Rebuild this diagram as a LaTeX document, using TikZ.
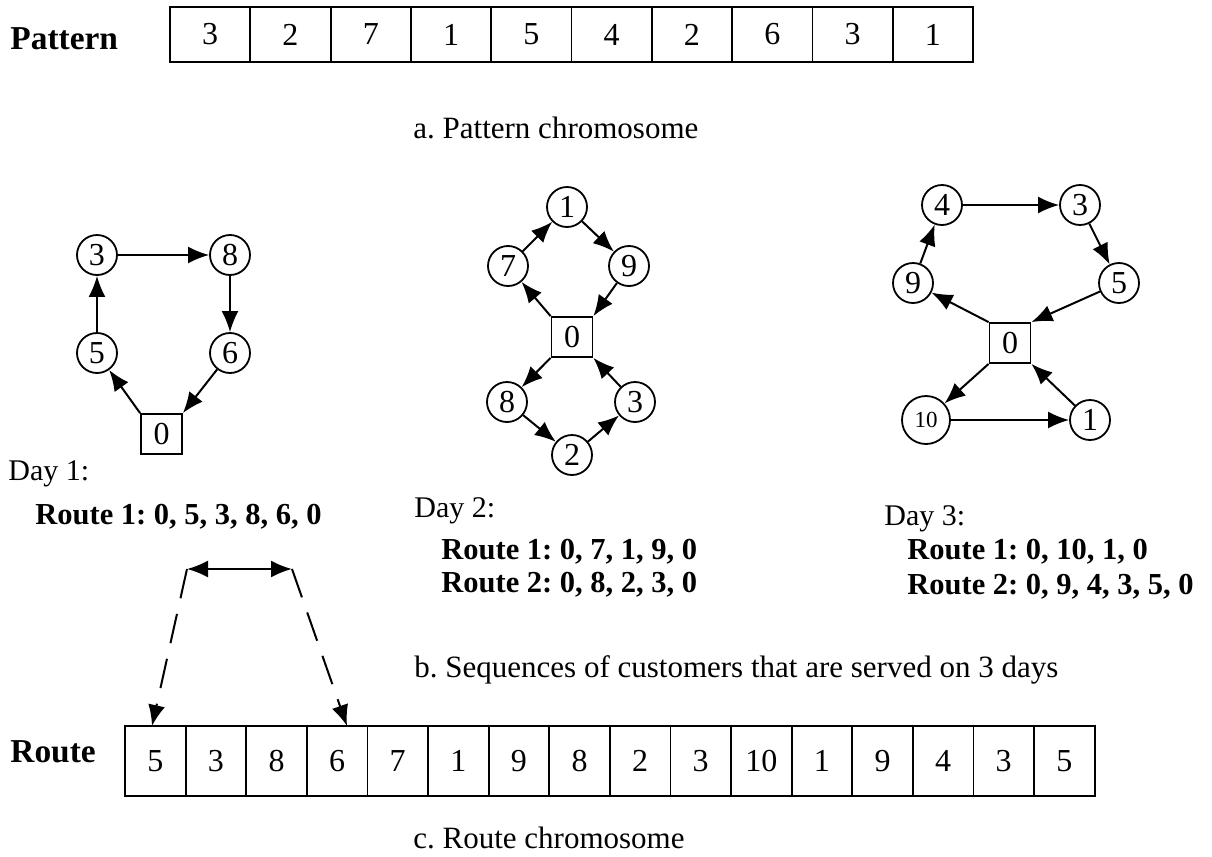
\documentclass[tikz,border=0pt]{standalone}
\usepackage{fontspec}
\setmainfont{Liberation Serif}
\usetikzlibrary{arrows.meta}
\frenchspacing
\begin{document}
\begin{tikzpicture}[x=0.5pt,y=-0.5pt,
  every node/.style={inner sep=0pt},
  cnode/.style={circle,draw,line width=0.9pt,minimum size=20pt,font=\fontsize{16}{18}\selectfont},
  depot/.style={rectangle,draw,line width=0.9pt,minimum width=20.5pt,minimum height=20pt,font=\fontsize{16}{18}\selectfont},
  pcell/.style={rectangle,draw,line width=0.9pt,minimum width=40.15pt,minimum height=27.5pt,font=\fontsize{16}{18}\selectfont},
  rcell/.style={rectangle,draw,line width=0.9pt,minimum width=30.3pt,minimum height=35pt,font=\fontsize{16}{18}\selectfont},
  tip/.style={Latex[length=10.5pt,width=8.5pt]},
  arr/.style={line width=1pt,-{Latex[length=10.5pt,width=8.5pt]}},
  lbl/.style={anchor=base west,font=\fontsize{15}{18}\selectfont},
  rlbl/.style={anchor=base west,font=\fontsize{15.25}{18}\selectfont\bfseries},
  captxt/.style={anchor=base west,font=\fontsize{15.5}{18}\selectfont},
  hdr/.style={anchor=base west,font=\fontsize{16.7}{20}\selectfont\bfseries}
]
\useasboundingbox (0,0) rectangle (1212,857);

% Pattern chromosome
\node[hdr] (patlbl) at (10,49) {Pattern};
\foreach \v [count=\i] in {3,2,7,1,5,4,2,6,3,1}
  \node[pcell] (p\i) at ({170+80.3*(\i-0.5)},34.5) {\v};
\node[captxt] (capa) at (413,138) {a. Pattern chromosome};

% Day 1
\node[cnode] (a3) at (97,255) {3};
\node[cnode] (a8) at (230,255) {8};
\node[cnode] (a5) at (97,353) {5};
\node[cnode] (a6) at (230,353) {6};
\node[depot] (d1) at (161.5,434) {0};
\draw[arr] (a5) -- (a3);
\draw[arr] (a3) -- (a8);
\draw[arr] (a8) -- (a6);
\draw[arr] (a6) -- (d1.north east);
\draw[arr] (d1.north west) -- (a5);

% Day 2
\node[cnode] (b1) at (567,207) {1};
\node[cnode] (b7) at (508,266) {7};
\node[cnode] (b9) at (629,266) {9};
\node[depot] (d2) at (572,337) {0};
\node[cnode] (b8) at (507,402) {8};
\node[cnode] (b3) at (635,402) {3};
\node[cnode] (b2) at (572,455) {2};
\draw[arr] (d2.north west) -- (b7);
\draw[arr] (b7) -- (b1);
\draw[arr] (b1) -- (b9);
\draw[arr] (b9) -- (d2.north east);
\draw[arr] (d2.south west) -- (b8);
\draw[arr] (b8) -- (b2);
\draw[arr] (b2) -- (b3);
\draw[arr] (b3) -- (d2.south east);

% Day 3
\node[cnode] (c4) at (942,205) {4};
\node[cnode] (c3) at (1080,205) {3};
\node[cnode] (c9) at (913,283) {9};
\node[cnode] (c5) at (1119,283) {5};
\node[depot] (d3) at (1010,343) {0};
\node[cnode,minimum size=24pt,font=\fontsize{11.5}{13}\selectfont] (c10) at (926,420) {10};
\node[cnode] (c1) at (1090,420) {1};
\draw[arr] (d3.north west) -- (c9);
\draw[arr] (c9) -- (c4);
\draw[arr] (c4) -- (c3);
\draw[arr] (c3) -- (c5);
\draw[arr] (c5) -- (d3.north east);
\draw[arr] (d3.south west) -- (c10);
\draw[arr] (c10) -- (c1);
\draw[arr] (c1) -- (d3.south east);

% Day texts
\node[lbl] (day1) at (8,480) {Day 1:};
\node[rlbl] (r1a) at (35,524) {Route 1: 0, 5, 3, 8, 6, 0};
\node[lbl] (day2) at (414,517) {Day 2:};
\node[rlbl] (r2a) at (441,559) {Route 1: 0, 7, 1, 9, 0};
\node[rlbl] (r2b) at (441,592) {Route 2: 0, 8, 2, 3, 0};
\node[lbl] (day3) at (884,525) {Day 3:};
\node[rlbl] (r3a) at (907,559) {Route 1: 0, 10, 1, 0};
\node[rlbl] (r3b) at (907,594) {Route 2: 0, 9, 4, 3, 5, 0};
\node[captxt] (capb) at (414,677) {b. Sequences of customers that are served on 3 days};

% Route chromosome
\node[hdr] (rtlbl) at (10,762) {Route};
\foreach \v [count=\i] in {5,3,8,6,7,1,9,8,2,3,10,1,9,4,3,5}
  \node[rcell] (r\i) at ({125+60.6*(\i-0.5)},761) {\v};
\node[captxt] (capc) at (413,848) {c. Route chromosome};

% mapping arrows
\coordinate (al) at (187,569);
\coordinate (ar) at (292,569);
\coordinate (el) at (152,726);
\coordinate (er) at (347,726);
\draw[line width=1pt,{Latex[length=10.5pt,width=8.5pt]}-{Latex[length=10.5pt,width=8.5pt]}] (al) -- (ar);
\draw[line width=1pt,dash pattern=on 15pt off 8pt,-{Latex[length=10.5pt,width=8.5pt]}] (al) -- (el);
\draw[line width=1pt,dash pattern=on 15pt off 8pt,-{Latex[length=10.5pt,width=8.5pt]}] (ar) -- (er);
\end{tikzpicture}
\end{document}
